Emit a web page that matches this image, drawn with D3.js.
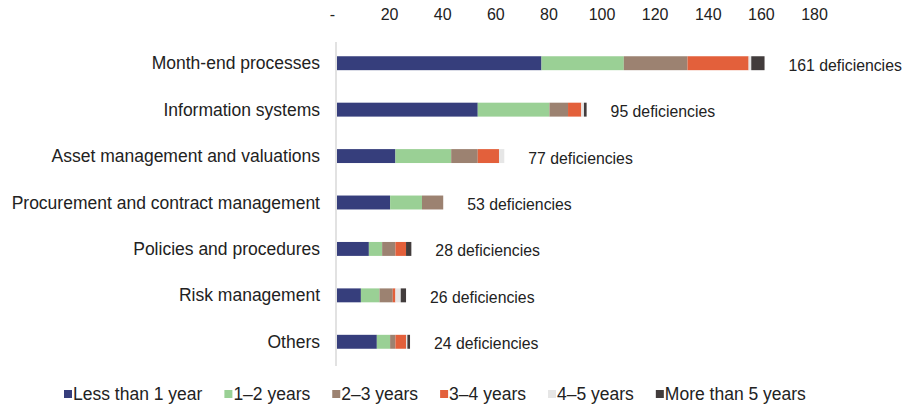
<!DOCTYPE html>
<html>
  <head>
    <meta charset="utf-8">
    <title>Deficiencies by age</title>
    <script src="https://d3js.org/d3.v7.min.js"></script>
    <style>
      body { margin: 0; background: #fff; }
      text { font-family: Arial, "Liberation Sans", sans-serif; fill: #222; }
    </style>
  </head>
  <body>
    <div id="vis"></div>
    <script>
      const width = 903;
      const height = 406;

      // categories (top to bottom)
      const categories = [
        "Month-end processes",
        "Information systems",
        "Asset management and valuations",
        "Procurement and contract management",
        "Policies and procedures",
        "Risk management",
        "Others"
      ];

      // series names for the legend / stacks
      const seriesNames = ["Less than 1 year", "1–2 years", "2–3 years", "3–4 years", "4–5 years", "More than 5 years"];

      // values, one array per series
      const lessThan1 = [77, 53, 22, 20, 12, 9, 15];
      const oneToTwo = [31, 27, 21, 12, 5, 7, 5];
      const twoToThree = [24, 7, 10, 8, 5, 5, 2];
      const threeToFour = [23, 5, 8, 0, 4, 1, 4];
      const fourToFive = [1, 1, 2, 0, 0, 2, 0.5];
      const moreThan5 = [5, 1, 0, 0, 2, 2, 1];

      // the totals printed next to each bar
      const totals = [161, 95, 77, 53, 28, 26, 24];

      const ticks = [0, 20, 40, 60, 80, 100, 120, 140, 160, 180];
      const colors = ["#363e7c", "#9ad095", "#9c8271", "#e3603b", "#e6e6e6", "#423c3c"];

      const seriesData = [lessThan1, oneToTwo, twoToThree, threeToFour, fourToFive, moreThan5];

      // build rows for d3.stack
      const rows = categories.map((c, i) => {
        const r = { cat: c };
        seriesNames.forEach((s, j) => { r[s] = seriesData[j][i]; });
        return r;
      });
      const stacked = d3.stack().keys(seriesNames)(rows);

      const svg = d3.select("#vis").append("svg")
        .attr("width", width).attr("height", height);

      const x = d3.scaleLinear().domain([0, 180]).range([336, 814]);
      const y = d3.scaleBand().domain(categories).range([40, 365]).paddingInner(0.7).paddingOuter(0.35);

      // axis on top, no line, no tick marks
      const xAxis = d3.axisTop(x)
        .tickValues(ticks)
        .tickSize(0)
        .tickFormat(d => d === 0 ? "-" : d);
      const gx = svg.append("g").attr("transform", "translate(0,23)").call(xAxis);
      gx.select(".domain").remove();
      gx.selectAll("text")
        .style("font-size", "16px")
        .attr("fill", "#222")
        .attr("dx", d => d === 0 ? -4 : 0);

      // vertical baseline
      svg.append("line")
        .attr("x1", x(0)).attr("x2", x(0))
        .attr("y1", 42).attr("y2", 366)
        .attr("stroke", "#d9d9d9").attr("stroke-width", 1.5);

      // stacked bars
      svg.append("g").selectAll("g")
        .data(stacked)
        .join("g")
        .attr("fill", (d, i) => colors[i])
        .selectAll("rect")
        .data(d => d)
        .join("rect")
        .attr("x", d => x(d[0]) + 1)
        .attr("y", d => y(d.data.cat))
        .attr("width", d => Math.max(0, x(d[1]) - x(d[0])))
        .attr("height", y.bandwidth());

      // category labels
      svg.append("g").selectAll("text")
        .data(categories)
        .join("text")
        .attr("x", 320)
        .attr("y", d => y(d) + y.bandwidth() / 2)
        .attr("dy", "0.35em")
        .attr("text-anchor", "end")
        .style("font-size", "17.5px")
        .text(d => d);

      // total labels after each bar
      const ends = rows.map(r => d3.sum(seriesNames, s => r[s]));
      svg.append("g").selectAll("text")
        .data(categories)
        .join("text")
        .attr("x", (d, i) => x(ends[i]) + 25)
        .attr("y", d => y(d) + y.bandwidth() / 2 + 2)
        .attr("dy", "0.35em")
        .style("font-size", "15.8px")
        .text((d, i) => totals[i] + " deficiencies");

      // legend
      const legend = svg.append("g").attr("transform", "translate(64,394)");
      let lx = 0;
      seriesNames.forEach((s, i) => {
        const g = legend.append("g").attr("transform", `translate(${lx},0)`);
        g.append("rect").attr("x", 0).attr("y", -4).attr("width", 8).attr("height", 8).attr("fill", colors[i]);
        const t = g.append("text")
          .attr("x", 9).attr("dy", "0.35em")
          .style("font-size", "17.5px")
          .text(s);
        lx += 9 + t.node().getComputedTextLength() + 22;
      });
    </script>
  </body>
</html>
